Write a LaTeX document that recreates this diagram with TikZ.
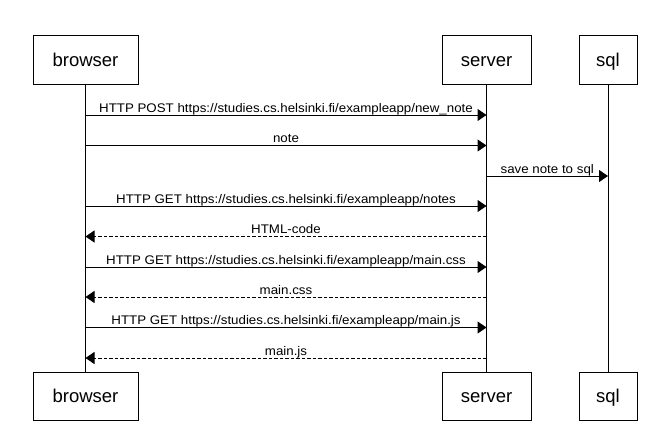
\documentclass[tikz,border=0pt]{standalone}
\usepackage{fontspec}
\setmainfont{Liberation Sans}
\newfontfamily\lblfont[FakeStretch=1.065]{Liberation Sans}
\usetikzlibrary{arrows.meta}
\begin{document}
\begin{tikzpicture}[x=1pt,y=-1pt,
  actor/.style={draw, line width=1pt, minimum height=48pt, inner sep=0pt,
    text height=12.5pt, text depth=0pt, font=\fontsize{18.5}{18.5}\selectfont},
  lifeline/.style={line width=1pt},
  msg/.style={-{Triangle[length=9pt,width=12pt]}, line width=1pt},
  reply/.style={msg, dash pattern=on 3.5pt off 2pt},
  lbl/.style={font=\lblfont\fontsize{12.5}{12.5}\selectfont, anchor=base, inner sep=0pt, midway, yshift=3pt}]
\useasboundingbox (0,0) rectangle (668,436);
% actors top
\node[actor, minimum width=105pt] (bt) at (85.5,60) {browser};
\node[actor, minimum width=89pt]  (st) at (486.5,60) {server};
\node[actor, minimum width=58pt]  (qt) at (608,60) {sql};
% actors bottom
\node[actor, minimum width=105pt] (bb) at (85.5,396) {browser};
\node[actor, minimum width=89pt]  (sb) at (486.5,396) {server};
\node[actor, minimum width=58pt]  (qb) at (608,396) {sql};
% lifelines
\draw[lifeline] (bt.south) -- (bb.north);
\draw[lifeline] (st.south) -- (sb.north);
\draw[lifeline] (qt.south) -- (qb.north);
% message end points
\path (85.5,115) coordinate (b1) (486.5,115) coordinate (s1);
\path (85.5,145.5) coordinate (b2) (486.5,145.5) coordinate (s2);
\path (486.5,176) coordinate (s3) (608,176) coordinate (q3);
\path (85.5,206) coordinate (b4) (486.5,206) coordinate (s4);
\path (85.5,236.5) coordinate (b5) (486.5,236.5) coordinate (s5);
\path (85.5,267) coordinate (b6) (486.5,267) coordinate (s6);
\path (85.5,297) coordinate (b7) (486.5,297) coordinate (s7);
\path (85.5,327.5) coordinate (b8) (486.5,327.5) coordinate (s8);
\path (85.5,358) coordinate (b9) (486.5,358) coordinate (s9);
% messages
\draw[msg] (b1) -- (s1) node[lbl] {HTTP POST https://studies.cs.helsinki.fi/exampleapp/new\_note};
\draw[msg] (b2) -- (s2) node[lbl] {note};
\draw[msg] (s3) -- (q3) node[lbl] {save note to sql};
\draw[msg] (b4) -- (s4) node[lbl] {HTTP GET https://studies.cs.helsinki.fi/exampleapp/notes};
\draw[reply] (s5) -- (b5) node[lbl] {HTML-code};
\draw[msg] (b6) -- (s6) node[lbl] {HTTP GET https://studies.cs.helsinki.fi/exampleapp/main.css};
\draw[reply] (s7) -- (b7) node[lbl] {main.css};
\draw[msg] (b8) -- (s8) node[lbl] {HTTP GET https://studies.cs.helsinki.fi/exampleapp/main.js};
\draw[reply] (s9) -- (b9) node[lbl] {main.js};
\end{tikzpicture}
\end{document}
